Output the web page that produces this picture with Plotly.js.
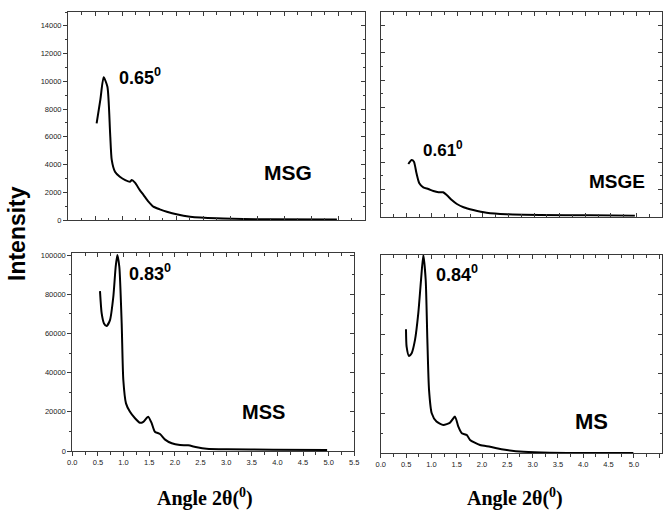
<!DOCTYPE html>
<html>
<head>
<meta charset="utf-8">
<script src="https://cdn.plot.ly/plotly-3.0.1.min.js"></script>
<style>html,body{margin:0;padding:0;background:#fff}#chart{width:664px;height:512px}</style>
</head>
<body>
<div id="chart"></div>
<script>
// ---- data ----
const msgX = [0.53,0.60,0.66,0.73,0.78,0.81,0.87,0.96,1.06,1.15,1.18,1.24,1.33,1.40,1.49,1.58,1.70,1.83,2.01,2.26,2.75,3.68,4.98];
const msgY = [6970,8700,10290,9610,6250,4330,3480,3120,2880,2760,2880,2690,2160,1800,1320,960,770,600,410,240,120,50,40];

const msgeX = [0.54,0.605,0.65,0.70,0.755,0.833,0.93,1.03,1.13,1.22,1.29,1.39,1.49,1.62,1.81,2.07,2.46,3.11,4.09,4.97];
const msgeY = [3860,4150,4030,3180,2450,2150,2030,1880,1790,1790,1590,1220,930,690,490,290,176,125,103,73];

const mssX = [0.54,0.573,0.618,0.67,0.735,0.80,0.846,0.878,0.917,0.963,0.995,1.047,1.125,1.223,1.32,1.385,1.48,1.549,1.61,1.71,1.81,1.94,2.10,2.26,2.43,2.62,3.01,3.92,4.97];
const mssY = [81600,70200,65100,63800,66800,78700,94000,100000,94000,65100,36200,24300,20000,16700,14400,14900,17500,14100,9850,8670,5800,3930,3060,2890,1890,1170,870,660,510];

const msX = [0.498,0.51,0.557,0.61,0.676,0.741,0.795,0.84,0.887,0.92,0.953,1.006,1.10,1.235,1.368,1.466,1.532,1.60,1.70,1.763,1.96,2.16,2.29,2.49,2.82,3.34,4.99];
const msY = [62600,53800,49100,50500,57200,70700,87500,100000,87500,57200,32000,20200,16000,14300,15500,18500,13400,10100,9240,6720,4190,3330,2520,1670,810,300,100];

const xTickVals = [0,0.5,1,1.5,2,2.5,3,3.5,4,4.5,5,5.5];
const xTickText = ["0.0","0.5","1.0","1.5","2.0","2.5","3.0","3.5","4.0","4.5","5.0","5.5"];
const yTopTicks = [0,2000,4000,6000,8000,10000,12000,14000];
const yBotTicks = [0,20000,40000,60000,80000,100000];

const peakLabels = ["0.65","0.61","0.83","0.84"];
const sampleNames = ["MSG","MSGE","MSS","MS"];

// ---- geometry ----
const W = 664, H = 512;
const px = v => v / W;
const py = v => 1 - v / H;

const panels = [
  {x: msgX,  y: msgY,  dom:[68,365],     ydom:[220,12],    xr:[0,5.5],  yr:[0,15000],  yt: yTopTicks, ymin:1000,  xlab:false, ylab:true},
  {x: msgeX, y: msgeY, dom:[380.7,662],  ydom:[216.7,12],  xr:[0,5.5],  yr:[0,15000],  yt: yTopTicks, ymin:1000,  xlab:false, ylab:false},
  {x: mssX,  y: mssY,  dom:[72.3,354.3], ydom:[451,253.3], xr:[0,5.5],  yr:[0,100870], yt: yBotTicks, ymin:10000, xlab:true,  ylab:true},
  {x: msX,   y: msY,   dom:[380.8,662],  ydom:[453.3,255], xr:[0,5.556],yr:[0,100000], yt: yBotTicks, ymin:10000, xlab:true,  ylab:false}
];

const frameColor = '#3a3a3a';
const tickFont = {family:'Liberation Sans, Arial, sans-serif', size:7.5, color:'#222'};
const traces = [];
const layout = {
  width: W, height: H, margin:{l:0,r:0,t:0,b:0},
  paper_bgcolor:'#fff', plot_bgcolor:'#fff', showlegend:false,
  annotations: []
};

panels.forEach((p, i) => {
  const n = i + 1, m = i + 5;
  const sfx = n === 1 ? '' : String(n);
  const xa = 'xaxis' + sfx, ya = 'yaxis' + sfx;
  const xo = 'xaxis' + m, yo = 'yaxis' + m;
  traces.push({x: p.x, y: p.y, xaxis:'x'+sfx, yaxis:'y'+sfx, mode:'lines', line:{color:'#000', width:2, shape:'spline', smoothing:0.6}, hoverinfo:'skip'});
  const xdom = [px(p.dom[0]), px(p.dom[1])];
  const ydom = [py(p.ydom[0]), py(p.ydom[1])];
  layout[xa] = {
    domain: xdom, range: p.xr, anchor: 'y'+sfx,
    showgrid:false, zeroline:false, showline:true, linecolor:frameColor, linewidth:1, mirror:true,
    tickvals: xTickVals, ticktext: xTickText, showticklabels: p.xlab,
    ticks: p.xlab ? 'outside' : 'inside', ticklen:4, tickwidth:1, tickcolor:frameColor,
    minor:{dtick:0.25, tick0:0, ticks: p.xlab ? 'outside' : 'inside', ticklen:2.5, tickcolor:frameColor},
    tickfont: tickFont, fixedrange:true
  };
  layout[ya] = {
    domain: ydom, range: p.yr, anchor: 'x'+sfx,
    showgrid:false, zeroline:false, showline:true, linecolor:frameColor, linewidth:1, mirror:true,
    tickvals: p.yt, ticktext: p.yt.map(String), showticklabels: p.ylab,
    ticks: p.ylab ? 'outside' : 'inside', ticklen:4, tickwidth:1, tickcolor:frameColor,
    minor:{dtick:p.ymin, tick0:0, ticks: p.ylab ? 'outside' : 'inside', ticklen:2.5, tickcolor:frameColor},
    tickfont: tickFont, fixedrange:true
  };
  // mirrored inside ticks on top and right
  layout[xo] = {
    domain: xdom, range: p.xr, overlaying:'x'+sfx, side:'top', anchor:'y'+sfx,
    showgrid:false, zeroline:false, showline:false, showticklabels:false,
    tickvals: xTickVals, ticks:'inside', ticklen:4, tickcolor:frameColor,
    minor:{dtick:0.25, tick0:0, ticks:'inside', ticklen:2.5, tickcolor:frameColor}, fixedrange:true
  };
  layout[yo] = {
    domain: ydom, range: p.yr, overlaying:'y'+sfx, side:'right', anchor:'x'+sfx,
    showgrid:false, zeroline:false, showline:false, showticklabels:false,
    tickvals: p.yt, ticks:'inside', ticklen:4, tickcolor:frameColor,
    minor:{dtick:p.ymin, tick0:0, ticks:'inside', ticklen:2.5, tickcolor:frameColor}, fixedrange:true
  };
  traces.push({x:[null], y:[null], xaxis:'x'+m, yaxis:'y'+m, mode:'lines', hoverinfo:'skip', showlegend:false});
});

const bold = 'Liberation Sans, Arial, sans-serif';
function ann(text, x, y, size, xanchor, extra) {
  layout.annotations.push(Object.assign({
    text: text, x: px(x), y: py(y), xref:'paper', yref:'paper', showarrow:false,
    xanchor: xanchor || 'center', yanchor:'middle',
    font:{family:bold, size:size, color:'#000', weight:700}
  }, extra || {}));
}
// peak labels
ann('<b>' + peakLabels[0] + '<sup>0</sup></b>', 117, 76, 18, 'left');
ann('<b>' + peakLabels[1] + '<sup>0</sup></b>', 421, 149, 17, 'left');
ann('<b>' + peakLabels[2] + '<sup>0</sup></b>', 127, 272, 18, 'left');
ann('<b>' + peakLabels[3] + '<sup>0</sup></b>', 434, 273, 18, 'left');
// sample names
ann('<b>' + sampleNames[0] + '</b>', 287.5, 172.5, 21);
ann('<b>' + sampleNames[1] + '</b>', 616.5, 181.5, 19);
ann('<b>' + sampleNames[2] + '</b>', 263, 411.7, 20);
ann('<b>' + sampleNames[3] + '</b>', 591, 421, 22);
// axis titles
ann('<b>Intensity</b>', 17, 234, 23, 'center', {textangle:-90});
const serif = {family:'Liberation Serif, Times New Roman, serif', size:20, color:'#000', weight:700};
ann('<b>Angle 2θ(<sup>0</sup>)</b>', 205, 497, 20, 'center', {font:serif});
ann('<b>Angle 2θ(<sup>0</sup>)</b>', 515, 497, 20, 'center', {font:serif});

Plotly.newPlot('chart', traces, layout, {staticPlot:true, displayModeBar:false});
</script>
</body>
</html>
